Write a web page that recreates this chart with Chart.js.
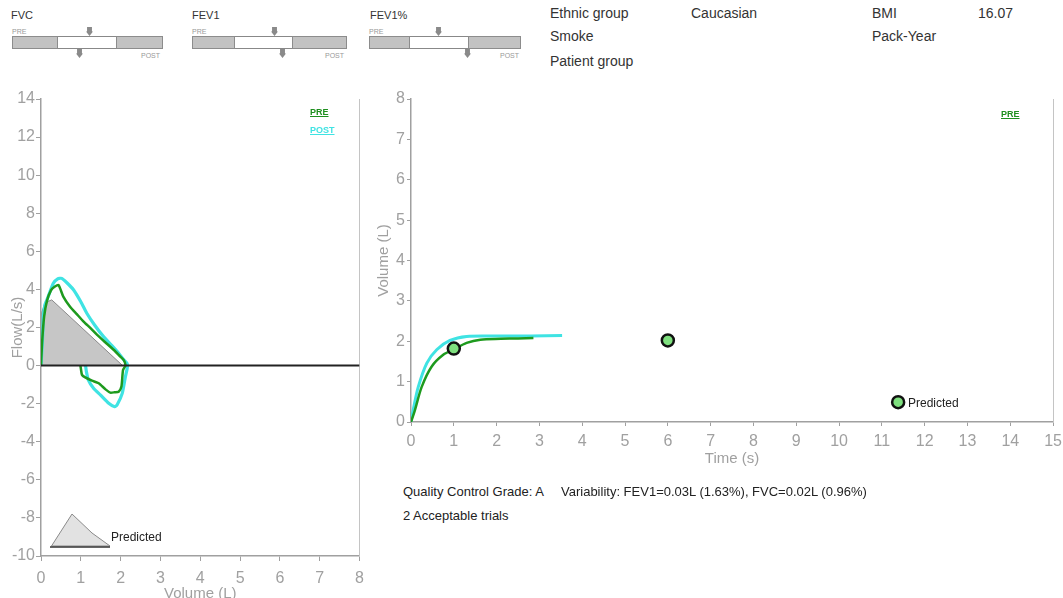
<!DOCTYPE html>
<html><head><meta charset="utf-8">
<script src="https://cdn.jsdelivr.net/npm/chart.js@4.4.0/dist/chart.umd.min.js"></script>
<style>
html,body{margin:0;padding:0;width:1063px;height:598px;overflow:hidden;background:#fff;font-family:"Liberation Sans",Arial,sans-serif;position:relative;}
.abs{position:absolute;white-space:nowrap;}
.hdr{font-size:14px;color:#333;line-height:16px;}
.glab{font-size:11px;color:#333;line-height:12px;}
.tiny{font-size:7px;color:#999;line-height:8px;}
.bar{position:absolute;height:13px;}
.seg{position:absolute;top:0;height:11px;background:#c2c2c2;border:1px solid #8c8c8c;}
.mid{position:absolute;top:0;height:11px;background:#fff;border-top:1px solid #888;border-bottom:1px solid #888;}
.mk{position:absolute;width:7px;height:9px;background:#8a8a8a;clip-path:polygon(15% 0,85% 0,85% 50%,100% 50%,50% 100%,0 50%,15% 50%);}
.leg{font-size:9px;font-weight:bold;text-decoration:underline;line-height:10px;}
.txt{font-size:13px;color:#222;line-height:16px;}
canvas{position:absolute;}
</style></head><body>

<!-- header gauges -->
<div class="abs glab" style="left:11px;top:9px;">FVC</div>
<div class="abs tiny" style="left:12px;top:28px;">PRE</div>
<div class="bar" style="left:12px;top:36px;width:151px;">
  <div class="seg" style="left:0;width:44px;"></div>
  <div class="mid" style="left:46px;width:58px;"></div>
  <div class="seg" style="left:104px;width:45px;"></div>
</div>
<div class="mk" style="left:86px;top:27px;"></div>
<div class="mk" style="left:76px;top:49px;"></div>
<div class="abs tiny" style="left:141px;top:52px;">POST</div>

<div class="abs glab" style="left:192px;top:9px;">FEV1</div>
<div class="abs tiny" style="left:192px;top:28px;">PRE</div>
<div class="bar" style="left:192px;top:36px;width:155px;">
  <div class="seg" style="left:0;width:41px;"></div>
  <div class="mid" style="left:43px;width:57px;"></div>
  <div class="seg" style="left:100px;width:53px;"></div>
</div>
<div class="mk" style="left:271px;top:27px;"></div>
<div class="mk" style="left:279px;top:49px;"></div>
<div class="abs tiny" style="left:325px;top:52px;">POST</div>

<div class="abs glab" style="left:370px;top:9px;">FEV1%</div>
<div class="abs tiny" style="left:369px;top:28px;">PRE</div>
<div class="bar" style="left:369px;top:36px;width:152px;">
  <div class="seg" style="left:0;width:39px;"></div>
  <div class="mid" style="left:41px;width:58px;"></div>
  <div class="seg" style="left:99px;width:51px;"></div>
</div>
<div class="mk" style="left:435px;top:27px;"></div>
<div class="mk" style="left:464px;top:49px;"></div>
<div class="abs tiny" style="left:500px;top:52px;">POST</div>

<!-- header info -->
<div class="abs hdr" style="left:550px;top:5px;">Ethnic group</div>
<div class="abs hdr" style="left:550px;top:28px;">Smoke</div>
<div class="abs hdr" style="left:550px;top:53px;">Patient group</div>
<div class="abs hdr" style="left:691px;top:5px;">Caucasian</div>
<div class="abs hdr" style="left:872px;top:5px;">BMI</div>
<div class="abs hdr" style="left:978px;top:5px;">16.07</div>
<div class="abs hdr" style="left:872px;top:28px;">Pack-Year</div>

<canvas id="fv" width="372" height="528" style="left:0;top:80px;"></canvas>
<canvas id="vt" width="708" height="400" style="left:360px;top:80px;"></canvas>

<!-- legends / annotations -->
<div class="abs leg" style="left:310px;top:107px;color:#1e8f1e;">PRE</div>
<div class="abs leg" style="left:310px;top:125px;color:#3fe3e3;">POST</div>
<div class="abs leg" style="left:1001px;top:109px;color:#1e8f1e;">PRE</div>

<svg class="abs" style="left:0;top:0;" width="200" height="598">
  <polygon points="51.5,546 72,514 92,533 110,546" fill="#e2e2e2" stroke="#8a8a8a" stroke-width="1"/>
  <line x1="50" y1="547" x2="110" y2="547" stroke="#333" stroke-width="1.5"/>
</svg>
<div class="abs" style="left:111px;top:530px;font-size:12px;color:#222;line-height:14px;">Predicted</div>
<div class="abs" style="left:908px;top:396px;font-size:12px;color:#222;line-height:14px;">Predicted</div>

<div class="abs txt" style="left:403px;top:484px;">Quality Control Grade: A</div>
<div class="abs txt" style="left:561px;top:484px;">Variability: FEV1=0.03L (1.63%), FVC=0.02L (0.96%)</div>
<div class="abs txt" style="left:403px;top:508px;">2 Acceptable trials</div>

<script>
// ---------- Flow-volume loop (left chart) ----------
const preLoopVolume = [0, 0.03, 0.08, 0.15, 0.25, 0.35, 0.44, 0.56, 0.73, 0.9, 1.07, 1.25, 1.41, 1.6, 1.83, 1.98, 2.08, 2.12, 2.06, 2.02, 1.95, 1.85, 1.74, 1.62, 1.45, 1.28, 1.11, 1.03, 1.0, 0.99];
const preLoopFlow   = [0, 1.3, 2.6, 3.4, 3.95, 4.15, 4.23, 3.62, 3.09, 2.7, 2.31, 1.95, 1.61, 1.25, 0.82, 0.5, 0.29, 0.0, -0.23, -1.1, -1.37, -1.4, -1.42, -1.25, -0.93, -0.79, -0.62, -0.49, -0.14, 0];
const postLoopVolume = [0, 0.04, 0.06, 0.1, 0.18, 0.31, 0.42, 0.52, 0.65, 0.82, 1.0, 1.15, 1.35, 1.57, 1.78, 1.95, 2.08, 2.16, 2.17, 2.16, 2.12, 2.04, 1.91, 1.85, 1.7, 1.49, 1.32, 1.19, 1.14, 1.12];
const postLoopFlow   = [0, 1.5, 2.57, 3.2, 3.62, 4.32, 4.55, 4.58, 4.35, 3.97, 3.35, 2.75, 2.12, 1.52, 1.05, 0.65, 0.3, 0.12, 0.0, -0.2, -0.58, -1.46, -2.07, -2.16, -1.98, -1.54, -1.19, -0.76, -0.32, 0];
const predLoopVolume = [0, 0.02, 0.1, 0.27, 2.05];
const predLoopFlow   = [0, 2.8, 3.3, 3.45, 0];
const zeroLineVolume = [0, 8];
const zeroLineFlow   = [0, 0];
const flowAxisRange = [-10, 14];
const volumeAxisRange = [0, 8];

// ---------- Volume-time curve (right chart) ----------
const preTime    = [0, 0.09, 0.25, 0.48, 0.76, 1.0, 1.3, 1.62, 2.1, 2.5, 2.86];
const preVolume  = [0, 0.29, 0.87, 1.37, 1.67, 1.8, 1.96, 2.04, 2.06, 2.07, 2.08];
const postTime   = [0, 0.05, 0.17, 0.37, 0.6, 0.91, 1.3, 2.0, 2.8, 3.53];
const postVolume = [0, 0.29, 0.87, 1.46, 1.79, 2.02, 2.12, 2.13, 2.13, 2.14];
const markerTime   = [1, 6, 11.38];
const markerVolume = [1.82, 2.02, 0.49];
const timeAxisRange = [0, 15];
const vtVolumeAxisRange = [0, 8];

function pts(xs, ys) { return xs.map((x, i) => ({ x: x, y: ys[i] })); }

const tickGray = '#a0a0a0';
const tickFont = { size: 16, family: 'Liberation Sans' };
const titleFont = { size: 15, family: 'Liberation Sans' };

new Chart(document.getElementById('fv'), {
  type: 'scatter',
  data: { datasets: [
    { label: 'zero', data: pts(zeroLineVolume, zeroLineFlow), showLine: true, borderColor: '#222', borderWidth: 2, pointRadius: 0 },
    { label: 'PRE', data: pts(preLoopVolume, preLoopFlow), showLine: true, borderColor: '#1e9a1e', borderWidth: 2.5, pointRadius: 0, tension: 0.2 },
    { label: 'POST', data: pts(postLoopVolume, postLoopFlow), showLine: true, borderColor: '#3fe3e3', borderWidth: 3.2, pointRadius: 0, tension: 0.2 },
    { label: 'Predicted', data: pts(predLoopVolume, predLoopFlow), showLine: true, borderColor: '#8a8a8a', borderWidth: 1, backgroundColor: '#c6c6c6', fill: 'origin', pointRadius: 0, tension: 0 }
  ]},
  options: {
    responsive: false, animation: false, events: [],
    layout: { padding: { top: 19, right: 12, bottom: 0, left: 0 } },
    plugins: { legend: { display: false }, tooltip: { enabled: false } },
    scales: {
      x: { type: 'linear', min: volumeAxisRange[0], max: volumeAxisRange[1],
        afterFit: s => { s.height = 52; },
        ticks: { stepSize: 1, color: tickGray, font: tickFont, padding: 8 },
        grid: { drawOnChartArea: false, tickLength: 5, color: tickGray },
        border: { color: tickGray, width: 1.5 },
        title: { display: true, text: 'Volume (L)', color: tickGray, font: titleFont, padding: { top: 0, bottom: 5 } } },
      y: { type: 'linear', min: flowAxisRange[0], max: flowAxisRange[1],
        afterFit: s => { s.width = 41; },
        ticks: { stepSize: 2, color: tickGray, font: tickFont, padding: 1 },
        grid: { drawOnChartArea: false, tickLength: 5, color: tickGray },
        border: { color: tickGray, width: 1.5 },
        title: { display: true, text: 'Flow(L/s)', color: tickGray, font: titleFont, padding: { top: 9, bottom: 0 } } },
      yR: { type: 'linear', position: 'right', min: flowAxisRange[0], max: flowAxisRange[1],
        afterFit: s => { s.width = 0; },
        ticks: { display: false }, grid: { display: false },
        border: { display: true, color: '#c4c4c4', width: 1 } }
    }
  }
});

new Chart(document.getElementById('vt'), {
  type: 'scatter',
  data: { datasets: [
    { label: 'markers', data: pts(markerTime, markerVolume), pointRadius: 6, pointBackgroundColor: '#7fe07f', pointBorderColor: '#111', pointBorderWidth: 2.5, showLine: false },
    { label: 'PRE', data: pts(preTime, preVolume), showLine: true, borderColor: '#1e9a1e', borderWidth: 2.5, pointRadius: 0, tension: 0.3 },
    { label: 'POST', data: pts(postTime, postVolume), showLine: true, borderColor: '#3fe3e3', borderWidth: 3, pointRadius: 0, tension: 0.3 }
  ]},
  options: {
    responsive: false, animation: false, events: [],
    layout: { padding: { top: 19, right: 10, bottom: 0, left: 0 } },
    plugins: { legend: { display: false }, tooltip: { enabled: false } },
    scales: {
      x: { type: 'linear', min: timeAxisRange[0], max: timeAxisRange[1],
        afterFit: s => { s.height = 58; },
        ticks: { stepSize: 1, color: tickGray, font: tickFont, padding: 6 },
        grid: { drawOnChartArea: false, tickLength: 4, color: tickGray },
        border: { color: tickGray, width: 1.5 },
        title: { display: true, text: 'Time (s)', color: tickGray, font: titleFont, padding: { top: 0, bottom: 12 } } },
      y: { type: 'linear', min: vtVolumeAxisRange[0], max: vtVolumeAxisRange[1],
        afterFit: s => { s.width = 51; },
        ticks: { stepSize: 1, color: tickGray, font: tickFont, padding: 2 },
        grid: { drawOnChartArea: false, tickLength: 4, color: tickGray },
        border: { color: tickGray, width: 1.5 },
        title: { display: true, text: 'Volume (L)', color: tickGray, font: titleFont, padding: { top: 15, bottom: 0 } } },
      yR: { type: 'linear', position: 'right', min: vtVolumeAxisRange[0], max: vtVolumeAxisRange[1],
        afterFit: s => { s.width = 0; },
        ticks: { display: false }, grid: { display: false },
        border: { display: true, color: '#c4c4c4', width: 1 } }
    }
  }
});
</script>
</body></html>
